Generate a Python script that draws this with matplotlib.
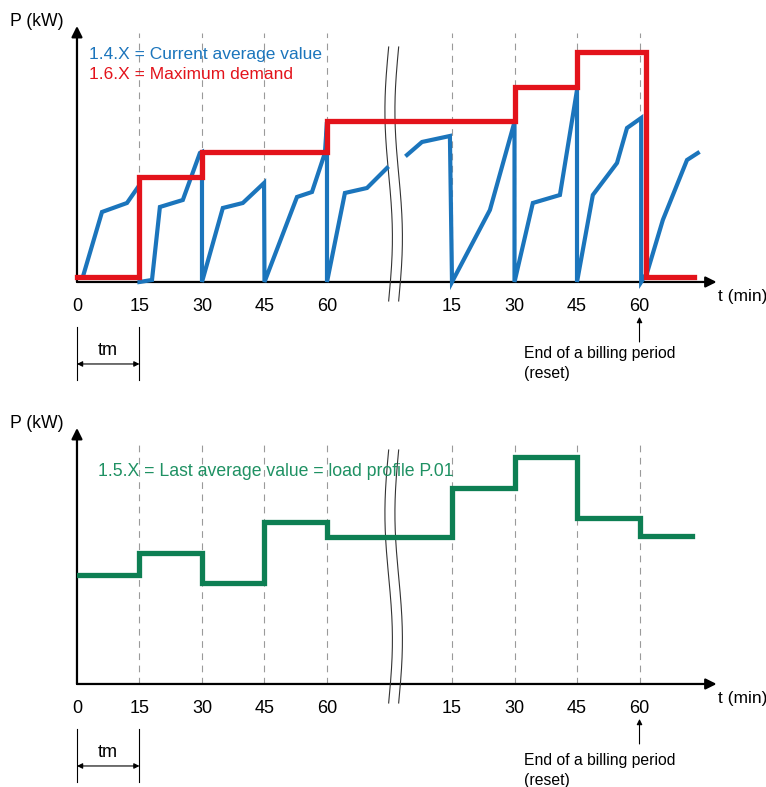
import numpy as np
import matplotlib
matplotlib.use('Agg')
import matplotlib.pyplot as plt

plt.rcParams['font.family'] = 'Liberation Sans'

# time axis: left block 0..60 min, break, right block drawn at 90..135 (labelled 15..60)
tick_pos = [0, 15, 30, 45, 60, 90, 105, 120, 135]
tick_lab = ['0', '15', '30', '45', '60', '15', '30', '45', '60']

# 1.4.X current average value (nan = break)
blue_t = [1.4, 6, 12, 15, 15, 18, 19.9, 25.4, 29.5, 30, 30, 35, 39.8, 44.9, 45,
          45, 52.8, 56.4, 59.5, 60, 60, 64.3, 69.6, 74.4, np.nan,
          79.2, 82.8, 89.5, 90, 90, 99.1, 105, 105, 109.4, 115.9, 120, 120,
          120, 123.8, 129.6, 132, 135.4, 135.4, 136.8, 140.6, 146.4, 149]
blue_p = [0.5, 7, 7.9, 9.7, 0, 0.2, 7.5, 8.2, 12.9, 13, 0, 7.4, 7.9, 9.9, 0,
          0, 8.5, 9, 12.9, 16, 0, 8.9, 9.4, 11.4, np.nan,
          12.7, 14, 14.6, 0, 0, 7.2, 16, 0, 7.9, 8.7, 19.2, 0,
          0, 8.7, 11.9, 15.4, 16.4, 0, 0.9, 6.2, 12.2, 12.9]

# 1.6.X maximum demand
red_t = [0, 15, 15, 30, 30, 60, 60, 105, 105, 120, 120, 136.6, 136.6, 148]
red_p = [0.5, 0.5, 10.5, 10.5, 13, 13, 16.1, 16.1, 19.5, 19.5, 23, 23, 0.5, 0.5]

# 1.5.X last average value (step after each period)
green_t = [0, 15, 30, 45, 60, 90, 105, 120, 135, 147.5]
green_p = [10.9, 13.1, 10.1, 16.2, 14.7, 19.6, 22.7, 16.6, 14.8, 14.8]

BLUE = '#1b75bc'
RED = '#e3131b'
GREEN = '#0d7f53'
GREEN_TXT = '#1f9163'

fig = plt.figure(figsize=(7.66, 7.87), dpi=100)
ax1 = fig.add_axes([0.1005, 0.6417, 0.835, 0.324])
ax2 = fig.add_axes([0.1005, 0.1309, 0.835, 0.324])


def frame(ax, grid_top, brk_top, reset_y):
    ax.set_xlim(0, 153.5)
    ax.set_ylim(0, 25.5)
    ax.axis('off')
    for x in tick_pos[1:]:
        ax.plot([x, x], [0, grid_top], color='#9a9a9a', lw=0.8, ls=(0, (6, 5)), zorder=1)
    ax.annotate('', xy=(153.5, 0), xytext=(0, 0), annotation_clip=False,
                arrowprops=dict(arrowstyle='-|>', lw=1.6, color='black', mutation_scale=16, shrinkA=0, shrinkB=0))
    ax.annotate('', xy=(0, 25.6), xytext=(0, 0), annotation_clip=False,
                arrowprops=dict(arrowstyle='-|>', lw=1.6, color='black', mutation_scale=16, shrinkA=0, shrinkB=0))
    ax.text(-16, 26.0, 'P (kW)', fontsize=12.7, ha='left', va='center')
    for x, s in zip(tick_pos, tick_lab):
        ax.text(x, -2.5, s, fontsize=13, ha='center', va='center')
    ax.text(153.8, -1.5, 't (min)', fontsize=12.5, ha='left', va='center')
    # break marks
    yy = np.linspace(-1.9, brk_top, 200)
    w = 0.9 * np.sin((yy - brk_top) / (brk_top + 1.9) * 2 * np.pi)
    ax.fill_betweenx(yy, 74.8 + w, 77.2 + w, color='white', zorder=2, clip_on=False)
    ax.plot(74.8 + w, yy, color='#333333', lw=0.8, zorder=3, clip_on=False)
    ax.plot(77.2 + w, yy, color='#333333', lw=0.8, zorder=3, clip_on=False)
    # tm
    for x in (0, 15):
        ax.plot([x, x], [-4.5, -9.8], color='black', lw=0.8, clip_on=False)
    ax.annotate('', xy=(0, -8.2), xytext=(15, -8.2), annotation_clip=False,
                arrowprops=dict(arrowstyle='<|-|>', lw=0.8, color='black', mutation_scale=8, shrinkA=0, shrinkB=0))
    ax.text(7.5, -6.9, 'tm', fontsize=13, ha='center', va='center')
    # billing period end
    ax.annotate('', xy=(135, -3.5), xytext=(135, -6.0), annotation_clip=False,
                arrowprops=dict(arrowstyle='-|>', lw=0.8, color='black', mutation_scale=8, shrinkA=0, shrinkB=0))
    ax.text(107.3, reset_y, 'End of a billing period\n(reset)', fontsize=11.3, ha='left', va='top',
            linespacing=1.4)


frame(ax1, 24.9, 23.5, -6.4)
frame(ax2, 24.4, 23.4, -6.9)

ax1.plot(blue_t, blue_p, color=BLUE, lw=3.0, zorder=4, solid_joinstyle='miter', clip_on=False)
ax1.plot(red_t, red_p, color=RED, lw=3.8, zorder=5, solid_joinstyle='miter', clip_on=False)
ax1.text(3, 22.7, '1.4.X = Current average value', color=BLUE, fontsize=12.5, va='center')
ax1.text(3, 20.7, '1.6.X = Maximum demand', color=RED, fontsize=12.5, va='center')

ax2.step(green_t, green_p, where='post', color=GREEN, lw=3.8, zorder=5, solid_joinstyle='miter')
ax2.text(5, 21.2, '1.5.X = Last average value = load profile P.01', color=GREEN_TXT, fontsize=12.7, va='center')

fig.savefig('out.png', dpi=100)
